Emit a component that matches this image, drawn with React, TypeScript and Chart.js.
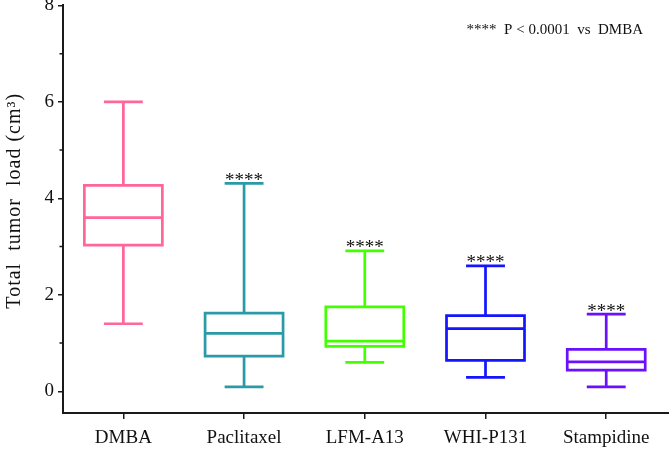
import { useEffect, useRef } from "react";
import { Chart, registerables } from "chart.js";

Chart.register(...registerables);

const categories = ["DMBA", "Paclitaxel", "LFM-A13", "WHI-P131", "Stampidine"];
const minValues = [1.4, 0.09, 0.6, 0.29, 0.09];
const q1Values = [3.03, 0.73, 0.93, 0.64, 0.44];
const medianValues = [3.6, 1.2, 1.04, 1.3, 0.61];
const q3Values = [4.27, 1.62, 1.75, 1.57, 0.87];
const maxValues = [6.0, 4.31, 2.91, 2.6, 1.6];
const significance = ["", "****", "****", "****", "****"];
const yTickValues = [0, 2, 4, 6, 8];
const yMinorTickValues = [1, 3, 5, 7];
const noteText = "****  P < 0.0001  vs  DMBA";
const yTitle = "Total  tumor  load (cm³)";

const boxColors = ["#FF6699", "#2B9AA8", "#44FF00", "#1414FF", "#6A10FF"];
const FONT = "'Liberation Serif', 'Times New Roman', serif";
const AXIS = "#1a1a1a";

const boxPlugin = {
  id: "boxPlot",
  afterDatasetsDraw(chart: any) {
    const ctx = chart.ctx;
    const xs = chart.scales.x;
    const ys = chart.scales.y;
    ctx.save();
    ctx.lineWidth = 2.7;
    ctx.lineCap = "butt";
    categories.forEach((_, i) => {
      const cx = xs.getPixelForValue(i);
      const hb = xs.getPixelForValue(i + 0.323) - cx;
      const hc = xs.getPixelForValue(i + 0.161) - cx;
      const yMin = ys.getPixelForValue(minValues[i]);
      const yQ1 = ys.getPixelForValue(q1Values[i]);
      const yMed = ys.getPixelForValue(medianValues[i]);
      const yQ3 = ys.getPixelForValue(q3Values[i]);
      const yMax = ys.getPixelForValue(maxValues[i]);
      ctx.strokeStyle = boxColors[i];
      ctx.beginPath();
      ctx.rect(cx - hb, yQ3, hb * 2, yQ1 - yQ3);
      ctx.moveTo(cx - hb, yMed);
      ctx.lineTo(cx + hb, yMed);
      ctx.moveTo(cx, yQ3);
      ctx.lineTo(cx, yMax);
      ctx.moveTo(cx - hc, yMax);
      ctx.lineTo(cx + hc, yMax);
      ctx.moveTo(cx, yQ1);
      ctx.lineTo(cx, yMin);
      ctx.moveTo(cx - hc, yMin);
      ctx.lineTo(cx + hc, yMin);
      ctx.stroke();
      if (significance[i]) {
        ctx.fillStyle = "#111";
        ctx.font = `19px ${FONT}`;
        ctx.textAlign = "center";
        ctx.textBaseline = "alphabetic";
        ctx.fillText(significance[i], cx, yMax + 2.5);
      }
    });
    // minor y ticks
    ctx.strokeStyle = AXIS;
    ctx.lineWidth = 1.5;
    ctx.beginPath();
    yMinorTickValues.forEach((v) => {
      const py = ys.getPixelForValue(v);
      ctx.moveTo(ys.right - 3.5, py);
      ctx.lineTo(ys.right, py);
    });
    ctx.stroke();
    // y title
    ctx.save();
    ctx.fillStyle = "#111";
    ctx.font = `20px ${FONT}`;
    try {
      (ctx as any).letterSpacing = "1px";
    } catch (e) {}
    ctx.textAlign = "center";
    ctx.textBaseline = "middle";
    ctx.translate(15, ys.getPixelForValue(3.95));
    ctx.rotate(-Math.PI / 2);
    ctx.fillText(yTitle, 0, 0);
    ctx.restore();
    // note
    ctx.fillStyle = "#111";
    ctx.font = `15px ${FONT}`;
    ctx.textAlign = "right";
    ctx.textBaseline = "middle";
    ctx.fillText(noteText, 643, ys.getPixelForValue(7.48));
    ctx.restore();
  },
};

export default function App() {
  const ref = useRef<HTMLCanvasElement | null>(null);
  useEffect(() => {
    if (!ref.current) return;
    const chart = new Chart(ref.current, {
      type: "scatter",
      data: {
        datasets: [
          {
            data: categories.map((_, i) => ({ x: i, y: medianValues[i] })),
            pointRadius: 0,
            pointHoverRadius: 0,
          },
        ],
      },
      options: {
        animation: false,
        responsive: true,
        maintainAspectRatio: false,
        layout: { padding: 0 },
        plugins: { legend: { display: false }, tooltip: { enabled: false } },
        scales: {
          x: {
            type: "linear",
            min: -0.5,
            max: 4.52,
            afterBuildTicks: (s: any) => {
              s.ticks = categories.map((_, i) => ({ value: i }));
            },
            afterFit: (s: any) => {
              s.height = 37;
            },
            ticks: {
              autoSkip: false,
              maxRotation: 0,
              padding: 8,
              color: "#111",
              font: { family: FONT, size: 19 },
              callback: (v: any) => categories[v as number] ?? "",
            },
            grid: {
              drawOnChartArea: false,
              drawTicks: true,
              tickLength: 6,
              lineWidth: 1.5,
              color: AXIS,
            },
            border: { display: true, color: AXIS, width: 2 },
          },
          y: {
            min: -0.45,
            max: 8,
            afterBuildTicks: (s: any) => {
              s.ticks = yTickValues.map((v) => ({ value: v }));
            },
            afterFit: (s: any) => {
              s.width = 63;
            },
            ticks: {
              padding: 4,
              color: "#111",
              font: { family: FONT, size: 19 },
            },
            grid: {
              drawOnChartArea: false,
              drawTicks: true,
              tickLength: 5,
              lineWidth: 1.5,
              color: AXIS,
            },
            border: { display: true, color: AXIS, width: 2 },
          },
        },
      },
      plugins: [boxPlugin],
    });
    return () => chart.destroy();
  }, []);
  return (
    <div style={{ position: "absolute", left: 0, top: -10, width: 669, height: 460, background: "#fff" }}>
      <canvas ref={ref} />
    </div>
  );
}
